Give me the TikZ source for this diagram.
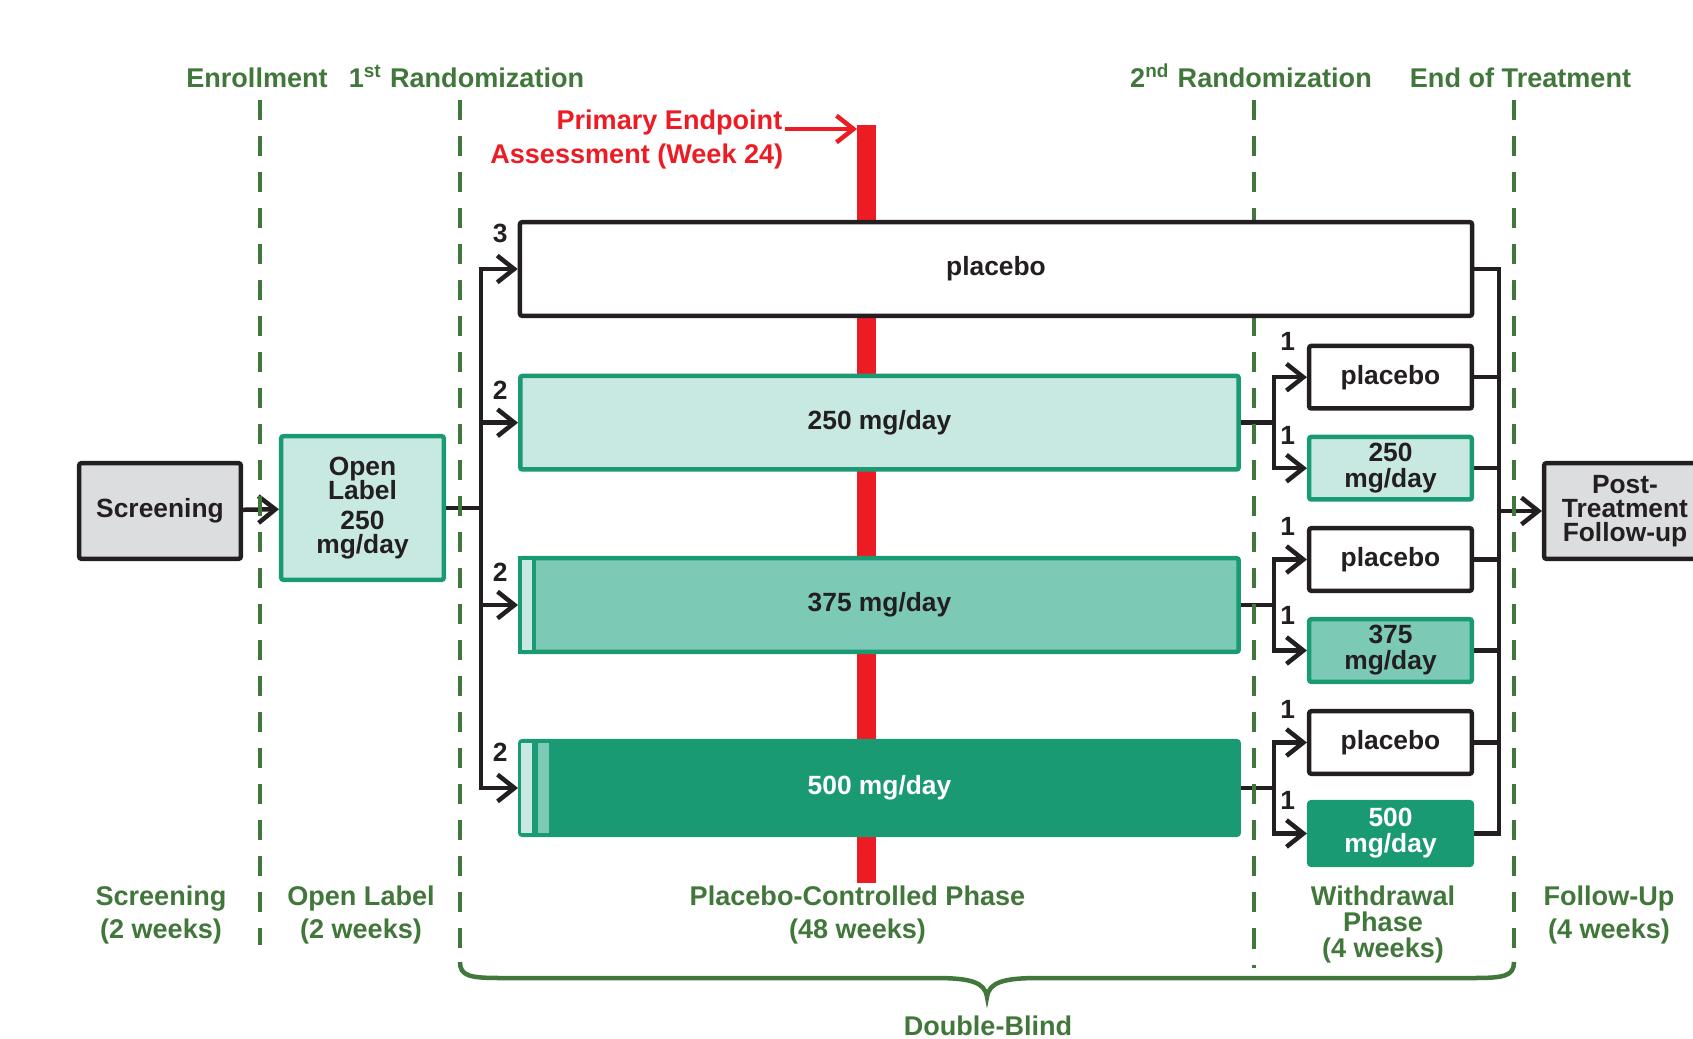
\documentclass[tikz,border=0pt]{standalone}
\usepackage{fontspec}
\setmainfont{Liberation Sans}
\usetikzlibrary{arrows.meta}

\definecolor{ink}{HTML}{231F20}
\definecolor{phasegreen}{HTML}{41773A}
\definecolor{endpt}{HTML}{ED1C24}
\definecolor{screen}{HTML}{DCDDDF}
\definecolor{dose250}{HTML}{C8E8E2}
\definecolor{dose375}{HTML}{7CCAB6}
\definecolor{dose500}{HTML}{1A9A73}

\pgfdeclarelayer{links}
\pgfdeclarelayer{marks}
\pgfsetlayers{links,marks,main}

\newcommand\phasefont{\fontsize{7.7}{9.4}\selectfont\bfseries}
\newcommand\armfont{\fontsize{7.5}{6.9}\selectfont\bfseries\lineskiplimit=-10pt\relax}

\begin{document}
\begin{tikzpicture}[x=0.01cm, y=-0.01cm,
    box/.style={draw=ink, line width=0.045cm, inner sep=0pt, align=center, font=\armfont, text=ink, rounded corners=0.6pt},
    arm/.style={box, minimum width=7.18cm, minimum height=0.935cm},
    wd/.style={box, minimum width=1.625cm, minimum height=0.625cm},
    flow/.style={draw=ink, line width=0.045cm},
    arr/.style={flow, -{Straight Barb[length=4.8pt, width=7.6pt]}},
    num/.style={font=\armfont, text=ink, inner sep=0pt},
    phase/.style={font=\phasefont, text=phasegreen, inner sep=0pt, align=center},
    milestone/.style={draw=phasegreen, line width=0.04cm, dash pattern=on 0.2cm off 0.16cm}]
    \useasboundingbox (0,0) rectangle (1693,1039);

    \node[phase, anchor=base] (enr) at (257,87) {Enrollment};
    \node[phase, anchor=base] (rand1) at (466.5,87) {1\textsuperscript{st} Randomization};
    \node[phase, anchor=base] (rand2) at (1251,87) {2\textsuperscript{nd} Randomization};
    \node[phase, anchor=base] (eot) at (1520.5,87) {End of Treatment};

    \node[box, fill=screen, minimum width=1.615cm, minimum height=0.955cm] (scr) at (160,511) {Screening};
    \node[box, draw=dose500, fill=dose250, minimum width=1.625cm, minimum height=1.435cm] (ol) at (362.5,508) {Open\\Label\\[1.7pt]250\\mg/day};

    \node[box, fill=white, minimum width=9.515cm, minimum height=0.935cm] (pbo) at (996,269) {placebo};
    \node[arm, draw=dose500, fill=dose250] (d250) at (879.5,422.7) {250 mg/day};
    \node[arm, draw=dose500, fill=dose375] (d375) at (879.5,605) {375 mg/day};
    \node[arm, draw=dose500, fill=dose500, text=white] (d500) at (879.5,788) {500 mg/day};
    \draw[draw=dose500, fill=dose250, line width=0.04cm] ([shift={(0.02cm,-0.02cm)}]d375.north west) rectangle ([shift={(0.16cm,0.02cm)}]d375.south west);
    \fill[dose250] ([shift={(0.025cm,-0.04cm)}]d500.north west) rectangle ([shift={(0.14cm,0.04cm)}]d500.south west);
    \fill[dose375] ([shift={(0.2cm,-0.04cm)}]d500.north west) rectangle ([shift={(0.31cm,0.04cm)}]d500.south west);

    \node[wd, fill=white] (w250p) at (1390.5,377.2) {placebo};
    \node[wd, draw=dose500, fill=dose250] (w250) at (1390.5,468.2) {250\\[0.5pt]mg/day};
    \node[wd, fill=white] (w375p) at (1390.5,559.5) {placebo};
    \node[wd, draw=dose500, fill=dose375] (w375) at (1390.5,650.5) {375\\[0.5pt]mg/day};
    \node[wd, fill=white] (w500p) at (1390.5,742.5) {placebo};
    \node[wd, draw=dose500, fill=dose500, text=white] (w500) at (1390.5,833.5) {500\\[0.5pt]mg/day};

    \node[box, fill=screen, minimum width=1.615cm, minimum height=0.955cm] (post) at (1625,511) {Post-\\Treatment\\Follow-up};

    \begin{pgfonlayer}{links}
        \draw[arr] (scr) -- (ol);
        \coordinate (r1) at (481,508);
        \draw[flow] (ol) -- (r1);
        \draw[arr] (r1) |- (pbo) node[num, pos=0.76, above=0.24cm] {3};
        \draw[arr] (r1) |- (d250) node[num, pos=0.76, above=0.21cm] {2};
        \draw[arr] (r1) |- (d375) node[num, pos=0.76, above=0.21cm] {2};
        \draw[arr] (r1) |- (d500) node[num, pos=0.76, above=0.24cm] {2};

        \draw[flow] (d250.east) -- ++(33,0) coordinate (s250);
        \draw[arr] (s250) |- (w250p) node[num, pos=0.71, above=0.24cm] {1};
        \draw[arr] (s250) |- (w250) node[num, pos=0.71, above=0.21cm] {1};
        \draw[flow] (d375.east) -- ++(33,0) coordinate (s375);
        \draw[arr] (s375) |- (w375p) node[num, pos=0.71, above=0.22cm] {1};
        \draw[arr] (s375) |- (w375) node[num, pos=0.71, above=0.24cm] {1};
        \draw[flow] (d500.east) -- ++(33,0) coordinate (s500);
        \draw[arr] (s500) |- (w500p) node[num, pos=0.71, above=0.22cm] {1};
        \draw[arr] (s500) |- (w500) node[num, pos=0.71, above=0.22cm] {1};

        \coordinate (c) at (1499,511);
        \draw[flow] (pbo.east) -| (w500.east -| c) -- (w500.east);
        \foreach \w in {w250p,w250,w375p,w375,w500p}
            \draw[flow] (\w.east) -- (\w.east -| c);
        \draw[arr] (c) -- (post);
    \end{pgfonlayer}

    \begin{pgfonlayer}{marks}
        \foreach \x/\y in {260/945, 460/948, 1254/968, 1514/948}
            \draw[milestone] (\x,100) -- (\x,\y);
        \node[fill=endpt, minimum width=0.19cm, minimum height=7.58cm, inner sep=0pt, outer sep=0pt] (wk24) at (866.5,504) {};
    \end{pgfonlayer}

    \node[phase, text=endpt, anchor=base east] (pe1) at (783,129) {Primary Endpoint};
    \node[phase, text=endpt, anchor=base east] (pe2) at (784,163) {Assessment (Week 24)};
    \draw[endpt, line width=0.045cm, -{Straight Barb[length=4.8pt, width=7.6pt]}] ([xshift=0.5pt]pe1.base east) -- (pe1.base east -| wk24.west);

    \node[phase, anchor=north] (ph1) at (161,885) {Screening\\(2 weeks)};
    \node[phase, anchor=north] (ph2) at (361,885) {Open Label\\(2 weeks)};
    \node[phase, anchor=north] (ph3) at (857.5,885) {Placebo-Controlled Phase\\(48 weeks)};
    \node[phase, anchor=north] (ph4) at (1383,885) {Withdrawal\\[-2pt]Phase\\[-2pt](4 weeks)};
    \node[phase, anchor=north] (ph5) at (1609,885) {Follow-Up\\(4 weeks)};

    \draw[phasegreen, line width=0.045cm] (460,962) .. controls (460,976) and (470,978) .. (500,978) -- (935,978) .. controls (970,978) and (985,982) .. (987,997) .. controls (989,982) and (1004,978) .. (1039,978) -- (1474,978) .. controls (1504,978) and (1514,976) .. (1514,962);
    \node[phase, anchor=base] (dbl) at (988,1035) {Double-Blind};
\end{tikzpicture}
\end{document}
